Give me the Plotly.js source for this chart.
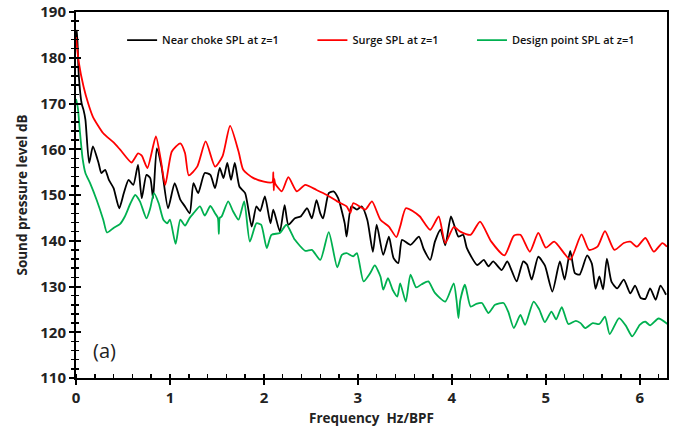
<!DOCTYPE html>
<html>
<head>
<meta charset="utf-8">
<script src="https://cdn.plot.ly/plotly-3.0.1.min.js"></script>
<style>
  html, body { margin: 0; padding: 0; background: #fff; }
  #chart { width: 677px; height: 429px; }
</style>
</head>
<body>
<div id="chart"></div>
<script>
// SPL spectra at z=1 for three operating points (frequency normalised by BPF)
const chokeFreq = [0, 0.01, 0.03, 0.06, 0.08, 0.10, 0.14, 0.18, 0.24, 0.27, 0.31, 0.35, 0.40, 0.46, 0.51, 0.56, 0.61, 0.66, 0.70, 0.75, 0.79, 0.82, 0.86, 0.91, 0.98, 1.05, 1.11, 1.16, 1.21, 1.25, 1.30, 1.37, 1.43, 1.48, 1.53, 1.57, 1.61, 1.65, 1.69, 1.74, 1.80, 1.87, 1.92, 1.96, 2.01, 2.07, 2.10, 2.17, 2.22, 2.26, 2.33, 2.39, 2.46, 2.51, 2.56, 2.60, 2.63, 2.69, 2.74, 2.79, 2.86, 2.88, 2.93, 2.99, 3.04, 3.10, 3.16, 3.20, 3.27, 3.33, 3.38, 3.43, 3.47, 3.56, 3.65, 3.70, 3.77, 3.82, 3.88, 3.93, 3.99, 4.03, 4.07, 4.12, 4.16, 4.27, 4.34, 4.39, 4.44, 4.53, 4.59, 4.64, 4.69, 4.76, 4.80, 4.85, 4.92, 4.99, 5.07, 5.15, 5.20, 5.26, 5.31, 5.36, 5.44, 5.49, 5.53, 5.57, 5.61, 5.65, 5.70, 5.76, 5.83, 5.90, 5.95, 6.01, 6.06, 6.11, 6.17, 6.22, 6.28];
const chokeSPL = [184, 186, 176, 170, 168.6, 166.5, 157.0, 160.6, 157.0, 154.8, 155.5, 153.3, 151.5, 147.1, 150.5, 153.3, 152.2, 156.6, 149.3, 154.4, 153.7, 149.3, 160.2, 156.2, 147.1, 152.6, 149.0, 147.5, 146.0, 152.6, 150.4, 154.8, 154.4, 151.5, 155.9, 153.7, 157.0, 153.3, 157.0, 151.8, 150.4, 143.1, 147.5, 146.5, 149.7, 143.8, 146.8, 142.0, 147.8, 143.5, 144.9, 145.3, 147.1, 144.9, 148.9, 146.0, 144.9, 150.4, 150.8, 149.3, 143.8, 140.9, 147.5, 146.8, 147.5, 144.6, 137.6, 143.5, 136.9, 140.9, 136.2, 135.1, 140.2, 139.1, 140.9, 138.2, 135.8, 139.8, 142.4, 139.0, 145.3, 143.1, 140.9, 141.3, 138.4, 134.7, 135.8, 134.4, 135.5, 133.6, 135.5, 133.3, 131.1, 135.5, 134.8, 131.5, 136.5, 134.6, 128.9, 135.5, 131.5, 137.8, 132.9, 132.6, 136.8, 135.0, 129.5, 132.2, 129.4, 136.1, 131.0, 129.6, 131.5, 128.5, 130.2, 127.5, 127.3, 129.6, 127.1, 130.2, 128.2];

const surgeFreq = [0, 0.03, 0.08, 0.13, 0.18, 0.29, 0.40, 0.47, 0.59, 0.63, 0.66, 0.70, 0.76, 0.85, 0.90, 0.95, 1.02, 1.11, 1.16, 1.20, 1.29, 1.38, 1.48, 1.56, 1.64, 1.73, 1.78, 1.88, 2.00, 2.09, 2.10, 2.105, 2.11, 2.12, 2.19, 2.26, 2.35, 2.44, 2.56, 2.67, 2.78, 2.88, 2.92, 2.95, 3.02, 3.08, 3.15, 3.24, 3.33, 3.41, 3.45, 3.51, 3.59, 3.66, 3.77, 3.86, 3.93, 4.02, 4.09, 4.20, 4.30, 4.42, 4.56, 4.66, 4.73, 4.83, 4.92, 5.00, 5.09, 5.26, 5.38, 5.46, 5.55, 5.63, 5.73, 5.83, 5.90, 5.97, 6.06, 6.15, 6.24, 6.29];
const surgeSPL = [184.5, 179, 173.7, 170, 167.1, 163.5, 161.5, 159.9, 157.1, 158.2, 159.1, 158.6, 155.9, 162.8, 158, 152.2, 159.5, 161.3, 159.2, 154.3, 156.2, 161.7, 156.2, 158.5, 165.1, 159.5, 155.5, 153.8, 152.9, 152.8, 155.0, 151.0, 153.5, 152.5, 150.8, 153.9, 150.8, 152.2, 151.1, 150.0, 148.6, 147.5, 146.1, 148.2, 147.5, 146.8, 148.6, 144.6, 143.1, 140.8, 143.1, 147.1, 146.4, 145.3, 142.4, 145.3, 139.5, 143.0, 142.0, 141.3, 144.2, 139.8, 136.8, 141.1, 141.3, 137.6, 141.7, 138.5, 139.8, 135.9, 141.4, 138.0, 138.7, 142.1, 138.0, 139.5, 139.8, 138.7, 140.6, 137.6, 139.5, 138.7];

const designFreq = [0, 0.02, 0.04, 0.07, 0.10, 0.15, 0.22, 0.29, 0.33, 0.40, 0.47, 0.52, 0.58, 0.63, 0.68, 0.75, 0.79, 0.83, 0.88, 0.93, 0.97, 1.00, 1.06, 1.11, 1.16, 1.21, 1.25, 1.32, 1.37, 1.43, 1.48, 1.51, 1.52, 1.53, 1.55, 1.62, 1.67, 1.73, 1.79, 1.85, 1.92, 1.97, 2.03, 2.08, 2.17, 2.24, 2.33, 2.44, 2.51, 2.60, 2.69, 2.78, 2.83, 2.88, 2.95, 2.99, 3.06, 3.13, 3.18, 3.24, 3.27, 3.32, 3.37, 3.42, 3.45, 3.51, 3.56, 3.62, 3.68, 3.75, 3.82, 3.93, 4.02, 4.05, 4.07, 4.09, 4.14, 4.20, 4.26, 4.32, 4.39, 4.46, 4.55, 4.60, 4.66, 4.73, 4.78, 4.87, 4.93, 4.99, 5.06, 5.11, 5.17, 5.24, 5.32, 5.37, 5.42, 5.50, 5.57, 5.63, 5.68, 5.78, 5.85, 5.92, 6.00, 6.06, 6.11, 6.20, 6.30];
const designSPL = [171, 169, 164.2, 158, 154.8, 152.6, 148.9, 144.6, 141.8, 142.8, 143.7, 145.3, 148.2, 150.0, 148.6, 144.9, 147.1, 150.4, 148.2, 144.6, 143.8, 144.6, 139.3, 144.6, 143.3, 145.0, 146.0, 147.5, 145.5, 147.6, 146.0, 145.0, 141.5, 145.0, 145.3, 148.6, 146.5, 144.6, 148.6, 139.8, 143.8, 143.5, 138.4, 141.3, 141.7, 143.5, 140.2, 137.8, 138.0, 135.8, 141.9, 134.2, 136.9, 137.3, 136.6, 137.3, 131.1, 132.9, 134.6, 132.2, 129.3, 131.8, 129.3, 127.8, 130.7, 126.7, 132.6, 129.8, 130.5, 131.1, 128.6, 126.7, 130.7, 127.0, 123.1, 127.0, 130.4, 125.6, 126.2, 126.4, 124.2, 126.0, 126.4, 124.5, 120.9, 123.8, 121.6, 126.7, 125.0, 122.2, 124.5, 122.8, 125.5, 121.8, 122.5, 122.0, 120.9, 122.0, 121.8, 123.4, 119.6, 123.1, 121.5, 119.1, 121.6, 122.3, 121.5, 123.0, 121.7];

const seriesNames = ['Near choke SPL at z=1', 'Surge SPL at z=1', 'Design point SPL at z=1'];
const seriesColors = ['#000000', '#ff0000', '#00b050'];

const FONT = 'Open Sans, Liberation Sans, sans-serif';

function curve(x, y, i, legendId) {
  return {
    x: x, y: y, type: 'scatter', mode: 'lines',
    name: seriesNames[i], legend: legendId,
    line: { color: seriesColors[i], width: 1.8, shape: 'spline', smoothing: 0.6 }
  };
}

const traces = [
  curve(chokeFreq, chokeSPL, 0, 'legend'),
  curve(surgeFreq, surgeSPL, 1, 'legend2'),
  curve(designFreq, designSPL, 2, 'legend3'),
  // invisible helper so the inner half of the y ticks can be drawn on an overlay axis
  { x: [0], y: [110], yaxis: 'y2', mode: 'markers', marker: { opacity: 0 }, showlegend: false, hoverinfo: 'skip' }
];

function legendAt(xp) {
  return {
    x: xp, y: 0.923, xanchor: 'left', yanchor: 'middle',
    orientation: 'h', bgcolor: 'rgba(0,0,0,0)', itemwidth: 30,
    font: { family: FONT, size: 11, color: '#111', weight: 600 }
  };
}

const layout = {
  width: 677, height: 429,
  margin: { l: 76, r: 10, t: 12, b: 51 },
  paper_bgcolor: '#ffffff', plot_bgcolor: '#ffffff',
  showlegend: true,
  legend: legendAt(0.078),
  legend2: legendAt(0.400),
  legend3: legendAt(0.670),
  xaxis: {
    range: [0, 6.29], dtick: 1, tick0: 0,
    showgrid: false, zeroline: false,
    showline: true, linecolor: '#000', linewidth: 2, mirror: true,
    ticks: 'outside', ticklen: 5, tickwidth: 2, tickcolor: '#000',
    minor: { dtick: 0.2, ticks: 'inside', ticklen: 4, tickwidth: 1.5, tickcolor: '#000' },
    tickfont: { family: FONT, size: 15, color: '#222', weight: 700 },
    title: { text: 'Frequency  Hz/BPF', font: { family: FONT, size: 13.5, color: '#222', weight: 700 }, standoff: 8 }
  },
  yaxis: {
    range: [110, 190], dtick: 10,
    showgrid: false, zeroline: false,
    showline: true, linecolor: '#000', linewidth: 2, mirror: true,
    ticks: 'outside', ticklen: 5, tickwidth: 2, tickcolor: '#000',
    minor: { dtick: 2, ticks: 'outside', ticklen: 3, tickwidth: 1.5, tickcolor: '#000' },
    tickfont: { family: FONT, size: 15, color: '#222', weight: 700 },
    title: { text: 'Sound pressure level dB', font: { family: FONT, size: 13.5, color: '#222', weight: 700 }, standoff: 10 }
  },
  yaxis2: {
    overlaying: 'y', side: 'left', range: [110, 190], dtick: 10,
    showgrid: false, zeroline: false, showline: false, showticklabels: false,
    ticks: 'inside', ticklen: 5, tickwidth: 2, tickcolor: '#000',
    minor: { dtick: 2, ticks: 'inside', ticklen: 3, tickwidth: 1.5, tickcolor: '#000' }
  },
  annotations: [
    { text: '(a)', xref: 'paper', yref: 'paper', x: 0.049, y: 0.0765,
      xanchor: 'center', yanchor: 'middle', showarrow: false,
      font: { family: FONT, size: 20, color: '#222' } }
  ]
};

Plotly.newPlot('chart', traces, layout, { displayModeBar: false, staticPlot: true });
</script>
</body>
</html>
